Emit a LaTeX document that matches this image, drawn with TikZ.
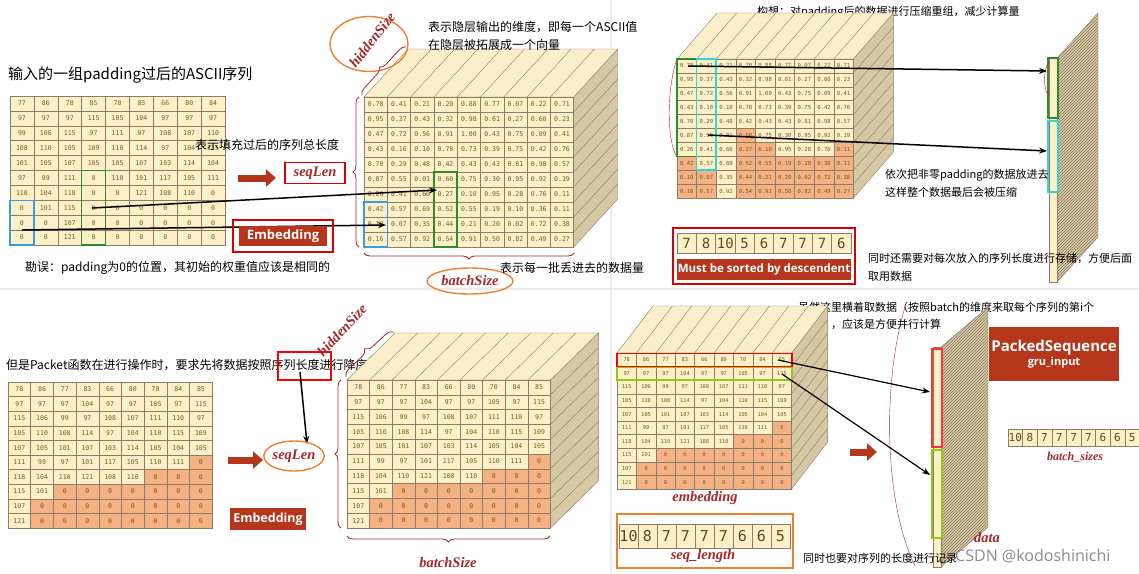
\documentclass[tikz,border=0pt]{standalone}
\usepackage{fontspec}
\setmainfont{Noto Sans CJK SC}
\newfontfamily\mono{DejaVu Sans Mono}
\newfontfamily\lbl{Liberation Serif}
\newfontfamily\bsans{Open Sans}
\usetikzlibrary{decorations.pathreplacing,shapes.geometric,patterns,arrows.meta}
\definecolor{cell}{HTML}{FDF0C8}
\definecolor{orng}{HTML}{F4B183}
\definecolor{edge}{HTML}{8C7E62}
\definecolor{numc}{HTML}{7A5A20}
\definecolor{sideface}{HTML}{D6C8A4}
\definecolor{topface}{HTML}{FBEECB}
\definecolor{dred}{HTML}{B5361B}
\definecolor{lblc}{HTML}{A3282A}
\definecolor{ornge}{HTML}{F07F2E}
\definecolor{bluebx}{HTML}{3D9BE0}
\definecolor{greenbx}{HTML}{2E8B2E}
\definecolor{cyanbx}{HTML}{2ED8D8}
\definecolor{ygreen}{HTML}{8CC919}
\tikzset{
 numtxt/.style={text=numc,inner sep=0pt},
 blk/.style={-{Stealth[length=8pt,width=6pt]},line width=1.5pt,black},
 bigarrow/.style={-{Triangle[length=10pt,width=17pt]},line width=7pt,dred},
 lbltxt/.style={text=lblc,font=\lbl\bfseries\itshape\fontsize{14.5}{14.5}\selectfont},
 cjk/.style={font=\fontsize{12}{12}\selectfont,anchor=west,inner sep=0pt},
 cjks/.style={font=\fontsize{11}{11}\selectfont,anchor=west,inner sep=0pt},
 brc/.style={decorate,decoration={brace,amplitude=6pt},lblc,thick},
 oell/.style={ellipse,draw=ornge,line width=1.4pt},
 redbox/.style={draw=red!85!black,line width=1.5pt},
 lencell/.style={draw=edge,fill=cell},
}
\newcommand\grid[7]{%
 \foreach \row [count=\r] in #5 {%
  \foreach \v [count=\c] in \row {%
   \pgfmathtruncatemacro\LL{{#6}[\c-1]}%
   \ifnum\r>\LL\relax\def\fc{orng}\else\def\fc{cell}\fi
   \filldraw[fill=\fc,draw=edge,line width=0.5pt] ({#1+(\c-1)*#3},{#2+(\r-1)*#4}) rectangle ++(#3,#4);
   \node[numtxt,font=#7] at ({#1+(\c-0.5)*#3},{#2+(\r-0.5)*#4}) {\v};
 }}}
\newcommand\cube[9]{%
 \pgfmathsetmacro\cW{9*#3}\pgfmathsetmacro\cH{10*#4}%
 \filldraw[fill=sideface,draw=edge] ({#1+\cW},{#2}) -- ++(#5,#6) -- ++(0,\cH) -- ({#1+\cW},{#2+\cH}) -- cycle;
 \foreach \i in {1,...,9} \draw[edge] ({#1+\cW},{#2+\i*#4}) -- ++(#5,#6);
 \filldraw[fill=topface,draw=edge] ({#1},{#2}) -- ++(#5,#6) -- ++(\cW,0) -- ({#1+\cW},{#2}) -- cycle;
 \foreach \i in {1,...,8} \draw[edge] ({#1+\i*#3},{#2}) -- ++(#5,#6);
 \grid{#1}{#2}{#3}{#4}{#7}{#8}{#9}}
\newcommand\stripp[6]{%
 \filldraw[fill=sideface,draw=edge] ({#1+#3},{#2}) -- ++(#5,#6) -- ++(0,#4) -- ({#1+#3},{#2+#4}) -- cycle;
 \fill[pattern=north east lines,pattern color=edge] ({#1+#3},{#2}) -- ++(#5,#6) -- ++(0,#4) -- ({#1+#3},{#2+#4}) -- cycle;
 \filldraw[fill=cell,draw=edge] ({#1},{#2}) rectangle ++(#3,#4);}
\newcommand\cells[6]{%
 \foreach \v [count=\c] in {#5} {%
  \filldraw[lencell] ({#1+(\c-1)*#3},{#2}) rectangle ++(#3,#4);
  \node[text=numc!80!black,font=#6,inner sep=0pt] at ({#1+(\c-0.5)*#3},{#2+0.5*#4}) {\v};}}
\def\dA{{77,86,78,85,70,83,66,80,84},{97,97,97,115,105,104,97,97,97},{99,106,115,97,111,97,108,107,110},{108,110,105,109,110,114,97,104,115},{101,105,107,105,105,107,103,114,104},{97,99,111,0,110,101,117,105,111},{110,104,118,0,0,121,108,110,0},{0,101,115,0,0,0,0,0,0},{0,0,107,0,0,0,0,0,0},{0,0,121,0,0,0,0,0,0}}
\def\dB{{0.78,0.41,0.21,0.20,0.88,0.77,0.07,0.22,0.71},{0.95,0.37,0.43,0.32,0.98,0.61,0.27,0.60,0.23},{0.47,0.72,0.56,0.91,1.00,0.43,0.75,0.09,0.41},{0.43,0.10,0.10,0.78,0.73,0.39,0.75,0.42,0.76},{0.70,0.29,0.48,0.42,0.43,0.43,0.81,0.98,0.57},{0.87,0.55,0.01,0.60,0.75,0.30,0.95,0.92,0.19},{0.26,0.41,0.60,0.27,0.10,0.95,0.28,0.76,0.11},{0.42,0.57,0.69,0.52,0.55,0.19,0.10,0.36,0.11},{0.19,0.07,0.35,0.44,0.21,0.20,0.02,0.72,0.38},{0.16,0.57,0.92,0.54,0.91,0.50,0.82,0.49,0.27}}
\def\dC{{78,86,77,83,66,80,70,84,85},{97,97,97,104,97,97,105,97,115},{115,106,99,97,108,107,111,110,97},{105,110,108,114,97,104,110,115,109},{107,105,101,107,103,114,105,104,105},{111,99,97,101,117,105,110,111,0},{118,104,110,121,108,110,0,0,0},{115,101,0,0,0,0,0,0,0},{107,0,0,0,0,0,0,0,0},{121,0,0,0,0,0,0,0,0}}
\def\allten{10,10,10,10,10,10,10,10,10}
\def\srt{10,8,7,7,7,7,6,6,5}
\begin{document}
\begin{tikzpicture}[x=1pt,y=-1pt]
\useasboundingbox[fill=white] (0,0) rectangle (1139,573);
\draw[black!8,line width=1.5pt] (611,0) -- (611,573);
\draw[black!8,line width=1.5pt] (0,289) -- (1139,289);
% ---------- top-left ----------
\node[font=\fontsize{15}{15}\selectfont,anchor=west,inner sep=0pt] (t1) at (8,75) {输入的一组padding过后的ASCII序列};
\grid{10}{96}{23.9}{14.9}{\dA}{\allten}{\mono\fontsize{6.5}{7}\selectfont}
\draw[bluebx,line width=1.5pt] (10,200.3) rectangle (33.9,245);
\draw[greenbx,line width=1.5pt] (81.7,170.5) rectangle (105.6,245);
\cube{364}{97}{23.3}{15}{44}{-48}{\dB}{\allten}{\mono\fontsize{6.5}{7}\selectfont}
\draw[bluebx,line width=1.5pt] (364,202) rectangle (387.3,247);
\draw[greenbx,line width=1.5pt] (433.9,172) rectangle (457.2,247);
\coordinate (a1s) at (92,208); \coordinate (a1e) at (437,190);
\coordinate (a2s) at (22,230); \coordinate (a2e) at (386,225);
\draw[blk] (a1s) -- (a1e);
\draw[blk] (a2s) -- (a2e);
\node[cjk] (t2) at (195,145) {表示填充过后的序列总长度};
\coordinate (ra1) at (238,178); \coordinate (ra1e) at (276,178);
\draw[bigarrow] (ra1) -- (ra1e);
\node[redbox,lbltxt,minimum width=60pt,minimum height=21pt,inner sep=1pt] (sl1) at (315,173) {seqLen};
\node[redbox,minimum width=100pt,minimum height=32pt] (embo) at (283,236) {};
\node[fill=dred,text=white,font=\bsans\bfseries\fontsize{13}{13}\selectfont,minimum width=88pt,minimum height=20pt,inner sep=1pt] (emb1) at (283,236) {Embedding};
\node[cjk] (t3) at (25,268) {勘误：padding为0的位置，其初始的权重值应该是相同的};
\node[oell,minimum width=78pt,minimum height=55pt] (hs1e) at (369,44) {};
\node[lbltxt,rotate=52] (hs1) at (372,40) {hiddenSize};
\draw[brc] (362,95) -- (406,47);
\draw[brc] (359,247) -- (359,97);
\draw[brc] (574,253) -- (364,253);
\node[oell,lbltxt,minimum width=86pt,minimum height=26pt,inner sep=0pt] (bs1) at (470,281) {batchSize};
\node[cjk] (t4) at (500,268) {表示每一批丢进去的数据量};
\node[cjk] (t5) at (428,27) {表示隐层输出的维度，即每一个ASCII值};
\node[cjk] (t6) at (428,45) {在隐层被拓展成一个向量};
% ---------- top-right ----------
\node[cjks] (t7) at (757,12) {构想：对padding后的数据进行压缩重组，减少计算量};
\cube{677}{59}{19.6}{13.9}{40}{-46}{\dB}{7,8,10,5,6,7,7,7,6}{\mono\fontsize{5.6}{6}\selectfont}
\draw[greenbx,line width=1.5pt] (677,59) rectangle (696.6,156.3);
\draw[cyanbx,line width=1.5pt] (696.6,59) rectangle (716.2,170.2);
\draw[red] (676,62) .. controls (667,90) and (667,140) .. (676,155);
\stripp{1049}{58}{8}{224}{41}{-45}
\draw[greenbx,line width=1.5pt] (1048,58) rectangle (1058,118);
\draw[cyanbx,line width=1.5pt] (1048,121) rectangle (1058,192);
\draw[red] (1049,62) .. controls (1043,70) and (1043,90) .. (1049,96);
\coordinate (b1s) at (688,66); \coordinate (b1e) at (1047,71);
\coordinate (b2s) at (708,135); \coordinate (b2e) at (1047,151);
\draw[blk] (b1s) -- (b1e);
\draw[blk] (b2s) -- (b2e);
\node[cjks] (t8) at (885,175) {依次把非零padding的数据放进去};
\node[cjks] (t9) at (885,192) {这样整个数据最后会被压缩};
\node[redbox,minimum width=182pt,minimum height=56pt] (srtbox) at (764,256) {};
\cells{677}{233}{19.33}{20}{7,8,10,5,6,7,7,7,6}{\mono\fontsize{14}{14}\selectfont}
\node[fill=dred,text=white,font=\bsans\bfseries\fontsize{11.5}{12}\selectfont,minimum width=174pt,minimum height=21pt,inner sep=0pt] (msb) at (764,269.5) {Must be sorted by descendent};
\node[cjks] (t10) at (868,258) {同时还需要对每次放入的序列长度进行存储，方便后面};
\node[cjks] (t11) at (868,276) {取用数据};
% ---------- bottom-left ----------
\node[cjk] (t12) at (6,365) {但是Packet函数在进行操作时，要求先将数据按照序列长度进行降序排列};
\node[draw=red,line width=1.3pt,minimum width=53pt,minimum height=28pt] (rq) at (304.5,366) {};
\coordinate (c1e) at (307,444);
\draw[blk] (300,372) -- (c1e);
\grid{8}{382}{22.7}{14.6}{\dC}{\srt}{\mono\fontsize{6.5}{7}\selectfont}
\draw[bigarrow] (228,460) -- (263,460);
\node[oell,lbltxt,minimum width=56pt,minimum height=30pt,inner sep=0pt] (sl2) at (294,456) {seqLen};
\node[fill=dred,text=white,font=\bsans\bfseries\fontsize{12.5}{13}\selectfont,minimum width=76pt,minimum height=22pt,inner sep=0pt] (emb2) at (268,519) {Embedding};
\cube{347}{380}{22.6}{14.8}{48}{-47}{\dC}{\srt}{\mono\fontsize{6.5}{7}\selectfont}
\draw[brc] (341,528) -- (341,380);
\draw[brc,decoration={amplitude=8pt}] (346,377) -- (394,332);
\node[lbltxt,rotate=47] (hs2) at (342,330) {hiddenSize};
\draw[brc] (550,536) -- (347,536);
\node[lbltxt] (bs2) at (448,563) {batchSize};
% ---------- bottom-right ----------
\node[cjks] (t13) at (798,307) {虽然这里横着取数据（按照batch的维度来取每个序列的第i个};
\node[cjks] (t14) at (798,324) {字符），应该是方便并行计算};
\cube{617}{353}{19.4}{13.6}{36}{-47}{\dC}{\srt}{\mono\fontsize{5.3}{6}\selectfont}
\draw[red,line width=1.3pt] (617,353.5) rectangle (792,366.5);
\draw[ygreen,line width=1.3pt] (617,367.3) rectangle (792,380);
\node[lbltxt] (embl) at (705,498) {embedding};
\node[draw=ornge,line width=1.5pt,minimum width=176pt,minimum height=54pt] (slbox) at (705,541) {};
\cells{619}{524}{19}{24}{10,8,7,7,7,7,6,6,5}{\mono\fontsize{15}{15}\selectfont}
\node[lbltxt] (sll) at (703,556) {seq\_length};
\draw[bigarrow] (850,452) -- (877,452);
\draw[lblc] (905,307) .. controls (883,380) and (883,500) .. (915,566);
\stripp{933}{347}{8}{220}{47}{-40}
\draw[red!80,line width=1.5pt] (932,349) rectangle (942,447);
\draw[ygreen,line width=1.5pt] (932,450) rectangle (942,538);
\coordinate (d1s) at (778,360); \coordinate (d1e) at (930,392);
\coordinate (d2s) at (782,374); \coordinate (d2e) at (930,475);
\draw[blk,line width=1.2pt] (d1s) -- (d1e);
\draw[blk,line width=1.2pt] (d2s) -- (d2e);
\node[lbltxt] (dl) at (987,538) {data};
\node[fill=dred,text=white,minimum width=128pt,minimum height=54pt,align=center,inner sep=2pt] (ps) at (1054,354) {{\bsans\bfseries\fontsize{15}{17}\selectfont PackedSequence}\\[2pt]{\bsans\bfseries\fontsize{11}{12}\selectfont gru\_input}};
\cells{1008}{429}{14.6}{17}{10,8,7,7,7,7,6,6,5}{\mono\fontsize{11}{11}\selectfont}
\node[lbltxt,font=\lbl\bfseries\itshape\fontsize{12}{12}\selectfont] (bsl) at (1075,457) {batch\_sizes};
\node[cjks] (t15) at (803,558) {同时也要对序列的长度进行记录};
\node[text=black!45,font=\bsans\fontsize{16}{16}\selectfont,anchor=west,inner sep=0pt] (wm) at (955,556) {CSDN @kodoshinichi};
\end{tikzpicture}
\end{document}
